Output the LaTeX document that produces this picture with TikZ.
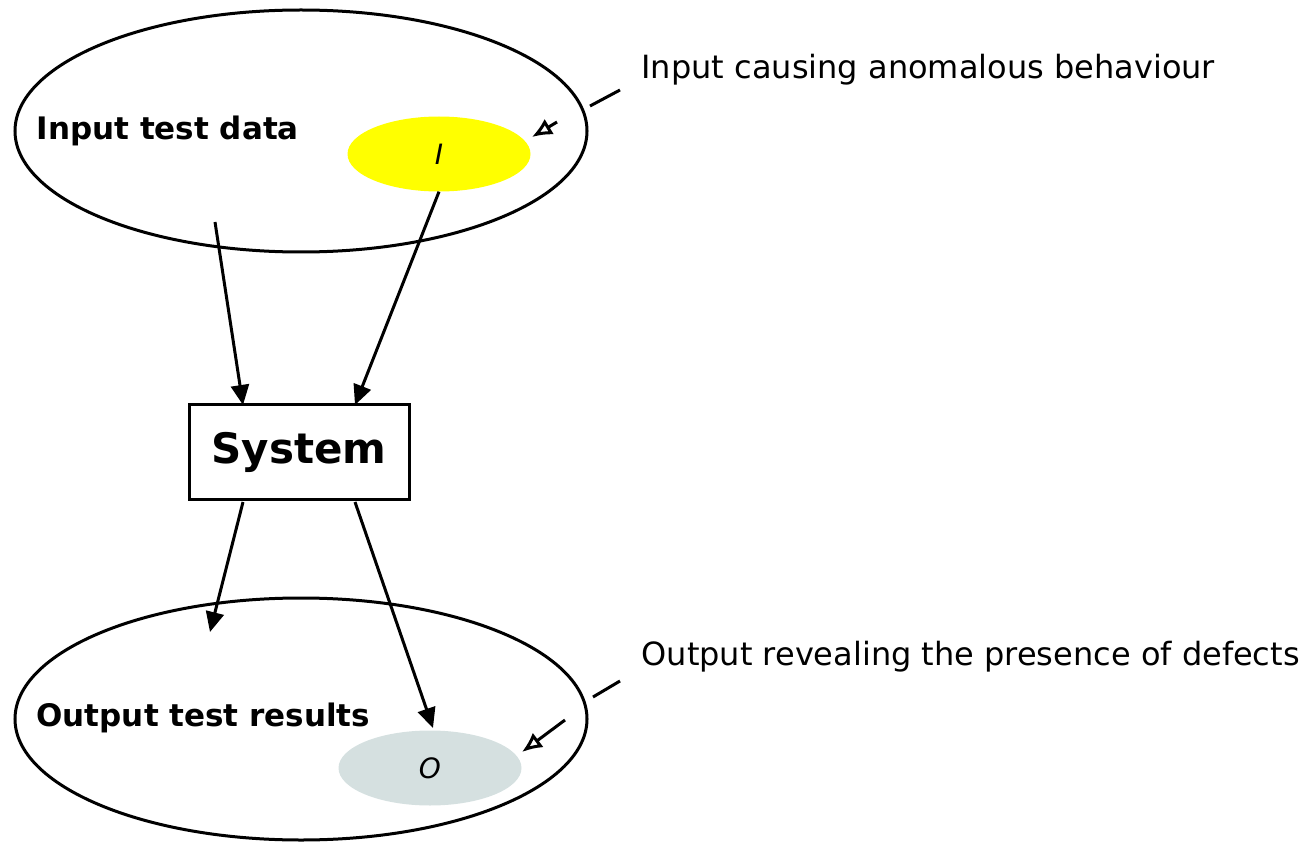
\documentclass[tikz,border=0pt]{standalone}
\usepackage{fontspec}
\setmainfont{DejaVu Sans}
\usetikzlibrary{arrows.meta,shapes.geometric}

\definecolor{hitcolor}{RGB}{255,255,0}
\definecolor{outcolor}{RGB}{213,224,224}

\begin{document}
\begin{tikzpicture}[x=1pt,y=-1pt,
                    >={Triangle[length=20pt,width=18pt]},   % arrow tip
                    set/.style={draw,ellipse,line width=3pt,minimum width=572pt,minimum height=242pt},
                    sub/.style={ellipse,draw=none,minimum width=183pt,minimum height=75pt,inner sep=0pt},
                    flow/.style={line width=3pt,->},
                    hint/.style={line width=3pt,-{Latex[open,length=20pt,width=18pt]}}
                    ]
\useasboundingbox (0,0) rectangle (1306,842);

% Input test data
\node[set] (inset) at (301,131) {};
\node[font=\bfseries\fontsize{31}{36}\selectfont,anchor=west] (inlabel) at (33,131) {Input test data};
\node[sub,fill=hitcolor] (hit) at (439,154) {\itshape\fontsize{28}{32}\selectfont I};

% System
\node[draw,line width=3pt,minimum width=220pt,minimum height=95pt,
      font=\bfseries\fontsize{42}{48}\selectfont] (system) at (299,452) {System};

% Output test results
\node[set] (outset) at (301,719) {};
\node[font=\bfseries\fontsize{31}{36}\selectfont,anchor=west] (outlabel) at (33,718) {Output test results};
\node[sub,fill=outcolor] (out) at (430,768) {\itshape\fontsize{28}{32}\selectfont O};

% flows
\coordinate (instart) at (215,222);
\coordinate (sysin) at (243,405);
\coordinate (sysin2) at (355,405);
\coordinate (sysout) at (243,502);
\coordinate (sysout2) at (355,502);
\coordinate (outend) at (210,632);
\coordinate (hitend) at (433,728);
\draw[flow] (instart) -- (sysin);
\draw[flow] (hit.south) -- (sysin2);
\draw[flow] (sysout) -- (outend);
\draw[flow] (sysout2) -- (hitend);

% annotations
\node[anchor=west,font=\fontsize{32}{38}\selectfont] (incap) at (638,70) {Input causing anomalous behaviour};
\node[anchor=west,font=\fontsize{32}{38}\selectfont] (outcap) at (638,657) {Output revealing the presence of defects};
\coordinate (intick) at (590,106);
\coordinate (intick2) at (620,90);
\coordinate (outtick) at (593,697);
\coordinate (outtick2) at (620,681);
\draw[line width=3pt] (intick) -- (intick2);
\draw[line width=3pt] (outtick) -- (outtick2);
\coordinate (inhint) at (557,122);
\coordinate (inhintend) at (532,137);
\coordinate (outhint) at (565,720);
\coordinate (outhintend) at (522,752);
\draw[hint] (inhint) -- (inhintend);
\draw[hint] (outhint) -- (outhintend);

\end{tikzpicture}
\end{document}
